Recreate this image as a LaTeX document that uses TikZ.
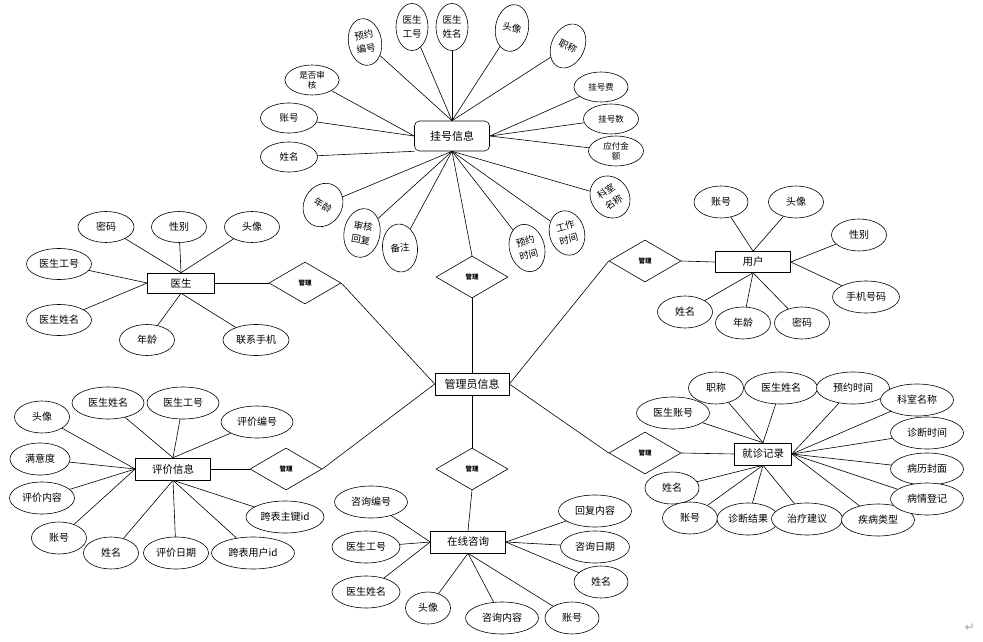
\documentclass[tikz,border=0pt]{standalone}
\usepackage{fontspec}
\setmainfont{Noto Sans CJK SC}
\newfontfamily\retfont{DejaVu Sans}
\usetikzlibrary{shapes.geometric}
\tikzset{
	attr/.style={ellipse,draw,fill=white,inner sep=0pt,minimum height=31pt,align=center,font=\fontsize{10}{12}\selectfont},
	ent/.style={rectangle,draw,fill=white,inner sep=2pt,minimum height=21pt,font=\fontsize{10.5}{12}\selectfont},
	rel/.style={diamond,draw,fill=white,inner sep=0pt,minimum width=72pt,minimum height=42pt,font=\fontsize{6.5}{7}\selectfont\bfseries}
}
\begin{document}
\begin{tikzpicture}[x=1pt,y=-1pt,line join=round,line cap=round,line width=0.6pt]
	\useasboundingbox (0,0) rectangle (983,642);
	% entities
	\node[ent,rounded corners=5pt,minimum width=75pt,minimum height=30pt,font=\fontsize{11}{12}\selectfont] (gh) at (452,136) {挂号信息};
	\node[ent,minimum width=74pt,minimum height=22pt,font=\fontsize{11}{12}\selectfont] (gly) at (472,384) {管理员信息};
	\node[ent,minimum width=67pt,minimum height=20pt] (ys) at (181,283) {医生};
	\node[ent,minimum width=75pt] (yh) at (753,262) {用户};
	\node[ent,minimum width=75pt,minimum height=22pt] (pj) at (173,469) {评价信息};
	\node[ent,minimum width=75pt,minimum height=22pt] (zx) at (468,542) {在线咨询};
	\node[ent,minimum width=57pt,minimum height=22pt] (jz) at (763,454) {就诊记录};
	% relations
	\node[rel] (dgh) at (472,277) {管理};
	\node[rel] (dys) at (305,283) {管理};
	\node[rel] (dyh) at (645,261) {管理};
	\node[rel] (dpj) at (286,469) {管理};
	\node[rel] (dzx) at (472,469) {管理};
	\node[rel] (djz) at (645,453) {管理};
	\draw (gh.south) -- (dgh.north);
	\draw (dgh.south) -- (gly.north);
	\draw (ys.east) -- (dys.west);
	\draw (dys.east) -- (gly.west);
	\draw (yh.west) -- (dyh.east);
	\draw (dyh.west) -- (gly.east);
	\draw (pj.east) -- (dpj.west);
	\draw (dpj.east) -- (gly.west);
	\draw (gly.south) -- (dzx.north);
	\draw (dzx.south) -- (zx.north);
	\draw (jz.west) -- (djz.east);
	\draw (djz.west) -- (gly.east);
	% 挂号信息
	\foreach \n/\x/\y/\w/\h/\r/\a/\t in {
		gha/365/42/33/47/10/north/{预约\\编号},
		ghb/412/27/32/47/0/north/{医生\\工号},
		ghc/452/27/32/47/0/north/{医生\\姓名},
		ghd/512/28/33/47/-10/north/{头像},
		ghe/568/46/33/46/-25/north/{职称},
		ghf/289/118/57/30/0/west/{账号},
		ghg/289/157/57/30/0/south west/{姓名},
		ghh/323/205/38/45/-30/south/{年龄},
		ghi/362/233/36/49/-10/south/{审核\\回复},
		ghj/400/248/35/48/5/south/{备注},
		ghk/527/248/35/48/15/south/{预约\\时间},
		ghl/567/233/35/45/15/south/{工作\\时间},
		ghm/610/197/38/44/35/south/{科室\\名称}}{
		\node[attr,minimum width=\w,minimum height=\h,rotate=\r,font=\fontsize{9.5}{13.5}\selectfont] (\n) at (\x,\y) {\t};
		\draw (\n) -- (gh.\a);
	}
	\foreach \n/\x/\y/\w/\a/\t in {
		ghn/312/80/54/west/{是否审\\核},
		gho/601/87/54/east/{挂号费},
		ghp/611/119/55/east/{挂号数},
		ghq/616/151/55/east/{应付金\\额}}{
		\node[attr,minimum width=\w,minimum height=30pt,font=\fontsize{8.5}{10.5}\selectfont] (\n) at (\x,\y) {\t};
		\draw (\n) -- (gh.\a);
	}
	% 医生
	\foreach \n/\x/\y/\w/\a/\t in {
		ysa/106/227/56/north/{密码},
		ysb/179/227/55/north/{性别},
		ysc/252/227/55/north/{头像},
		ysd/59/264/65/west/{医生工号},
		yse/59/320/65/west/{医生姓名},
		ysf/147/340/55/south/{年龄},
		ysg/256/340/66/south/{联系手机}}{
		\node[attr,minimum width=\w] (\n) at (\x,\y) {\t};
		\draw (\n) -- (ys.\a);
	}
	% 用户
	\foreach \n/\x/\y/\w/\a/\t in {
		yha/721/202/54/north/{账号},
		yhb/796/202/55/north/{头像},
		yhc/859/235/55/east/{性别},
		yhd/866/297/67/east/{手机号码},
		yhe/685/312/55/south/{姓名},
		yhf/743/323/55/south/{年龄},
		yhg/802/323/55/south/{密码}}{
		\node[attr,minimum width=\w,minimum height=32pt] (\n) at (\x,\y) {\t};
		\draw (\n) -- (yh.\a);
	}
	% 评价信息
	\foreach \n/\x/\y/\w/\a/\t in {
		pja/42/417/55/west/{头像},
		pjb/108/403/72/north/{医生姓名},
		pjc/183/403/72/north/{医生工号},
		pjd/257/422/72/north/{评价编号},
		pje/40/459/60/west/{满意度},
		pjf/42/498/65/west/{评价内容},
		pjg/59/538/55/west/{账号},
		pjh/111/553/55/south/{姓名},
		pji/176/553/65/south/{评价日期},
		pjj/253/553/83/south/{跨表用户id},
		pjk/285/517/78/south/{跨表主键id}}{
		\node[attr,minimum width=\w,minimum height=32pt] (\n) at (\x,\y) {\t};
		\draw (\n) -- (pj.\a);
	}
	% 在线咨询
	\foreach \n/\x/\y/\w/\a/\t in {
		zxa/371/502/73/west/{咨询编号},
		zxb/366/547/68/west/{医生工号},
		zxc/366/592/68/west/{医生姓名},
		zxd/428/608/45/south/{头像},
		zxe/502/618/73/south/{咨询内容},
		zxf/572/618/54/south/{账号},
		zxg/601/582/54/east/{姓名},
		zxh/595/547/69/east/{咨询日期},
		zxi/595/511/73/east/{回复内容}}{
		\node[attr,minimum width=\w,minimum height=32pt] (\n) at (\x,\y) {\t};
		\draw (\n) -- (zx.\a);
	}
	% 就诊记录
	\foreach \n/\x/\y/\w/\a/\t in {
		jza/716/388/55/north/{职称},
		jzb/781/388/73/north/{医生姓名},
		jzc/853/388/73/east/{预约时间},
		jzd/917/400/73/east/{科室名称},
		jze/673/413/73/north/{医生账号},
		jzf/927/433/73/east/{诊断时间},
		jzg/927/469/73/east/{病历封面},
		jzh/672/488/54/south/{姓名},
		jzi/690/518/55/south/{账号},
		jzj/748/519/62/south/{诊断结果},
		jzk/807/519/71/south/{治疗建议},
		jzl/878/520/73/east/{疾病类型},
		jzm/927/499/73/east/{病情登记}}{
		\node[attr,minimum width=\w,minimum height=32pt] (\n) at (\x,\y) {\t};
		\draw (\n) -- (jz.\a);
	}
	\node[text=gray!70,font=\retfont\fontsize{12}{12}\selectfont] (ret) at (970,628) {↵};
\end{tikzpicture}
\end{document}
